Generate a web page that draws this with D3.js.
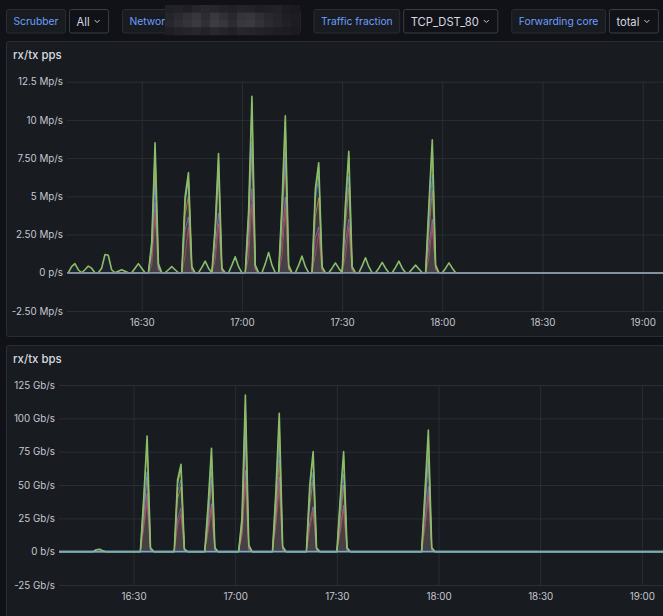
<!DOCTYPE html>
<html>
<head>
<meta charset="utf-8">
<script src="https://cdn.jsdelivr.net/npm/d3@7"></script>
<style>
	body { margin: 0; background: #111217; font-family: Inter, "Noto Sans", sans-serif; overflow: hidden; }
	svg { display: block; }
	.tick text { fill: #c7c7d1; font-size: 9.8px; font-family: Inter, sans-serif; }
</style>
</head>
<body>
<div id="chart"></div>
<script>
/*global d3*/

// dashboard variables
const chipLabels = ["Scrubber", "Network", "Traffic fraction", "Forwarding core"];
const chipValues = ["All", null, "TCP_DST_80", "total"];

// samples are one minute apart, starting at this time
const startTime = "16:08";
const endTime = "19:20";

// rx/tx pps, top series (Mp/s), one value per minute from 16:08
const ppsTotal = [
	0, 0.4, 0.6, 0.2, 0, 0.2, 0.44, 0.3, 0, 0,
	0.3, 1.2, 1.15, 0.2, 0, 0.1, 0.2, 0.1, 0, 0,
	0.3, 0.6, 0.3, 0, 0, 2.0, 8.5, 0.6, 0, 0,
	0.2, 0.4, 0.2, 0, 0, 5.0, 6.55, 0.4, 0, 0,
	0.35, 0.76, 0.3, 0, 3.0, 7.8, 0.3, 0, 0, 0.5,
	1.05, 0.4, 0, 0, 4.0, 11.55, 0.5, 0, 0, 0.6,
	1.33, 0.5, 0, 0, 4.5, 10.27, 0.5, 0, 0, 0.5,
	1.09, 0.4, 0, 0, 5.5, 7.2, 0.4, 0, 0, 0.3,
	0.65, 0.3, 0, 4.5, 7.94, 0.4, 0, 0, 0.45, 0.98,
	0.4, 0, 0, 0.3, 0.68, 0.3, 0, 0, 0.35, 0.76,
	0.3, 0, 0, 0.25, 0.5, 0.25, 0, 0, 4.5, 8.7,
	0.5, 0, 0, 0.3, 0.65, 0.3, 0
];

// burst minutes (offset from startTime), other series only move there
const ppsBursts = [26, 36, 45, 55, 65, 75, 84, 109];
// [minute before, burst minute, minute after]
const ppsYellow = [[1.9, 8.1, 0.5], [4.8, 6.3, 0.4], [2.9, 7.5, 0.3], [3.8, 11.1, 0.5], [4.3, 9.9, 0.5], [5.3, 6.9, 0.4], [4.3, 7.6, 0.4], [4.3, 8.3, 0.5]];
const ppsBlue = [[1.5, 6.0, 0.3], [4.6, 6.05, 0.3], [2.5, 6.6, 0.2], [3.1, 8.6, 0.4], [3.7, 7.9, 0.4], [4.8, 6.3, 0.3], [3.7, 6.3, 0.3], [3.3, 6.4, 0.4]];
const ppsOrange = [[1.6, 6.5, 0.4], [3.8, 5.0, 0.3], [2.4, 6.4, 0.2], [2.8, 8.2, 0.4], [3.3, 7.35, 0.3], [3.7, 4.9, 0.3], [3.2, 5.6, 0.3], [2.8, 5.4, 0.4]];
const ppsRed = [[0.5, 3.8, 0.2], [1.1, 3.0, 0.1], [0.8, 3.2, 0.1], [1.0, 4.5, 0.2], [1.1, 4.2, 0.2], [1.2, 2.6, 0.1], [1.1, 3.0, 0.1], [1.0, 3.0, 0.2]];
const ppsPurple = [[1.1, 4.6, 0.2], [2.8, 3.66, 0.2], [1.5, 3.9, 0.1], [1.9, 5.5, 0.2], [2.2, 4.96, 0.2], [2.3, 3.0, 0.2], [2.0, 3.5, 0.2], [1.8, 3.5, 0.2]];

// rx/tx bps (Gb/s)
const bpsBursts = [12, 26, 36, 45, 55, 65, 75, 84, 109];
const bpsGreen = [[1.4, 1.8, 0.6], [40, 86.8, 3], [54, 65.5, 2], [35, 77.5, 3], [25, 117.5, 5], [45, 103.8, 4], [50, 75, 3], [40, 75, 3], [45, 91.3, 3]];
const bpsYellow = [[1.3, 1.7, 0.5], [38, 82, 3], [51, 62, 2], [33, 73, 3], [24, 111, 5], [43, 98, 4], [47, 71, 3], [38, 71, 3], [43, 86, 3]];
const bpsBlue = [[0, 0, 0], [30, 60, 2], [45, 53.8, 2], [25, 60, 2], [20, 90, 4], [35, 80, 3], [40, 60, 2], [30, 58, 2], [35, 70, 2]];
const bpsOrange = [[0, 0, 0], [28, 56, 2], [40, 48.8, 2], [22, 53.8, 2], [18, 85, 4], [30, 68.8, 3], [35, 53.8, 2], [25, 50, 2], [33, 69, 2]];
const bpsRed = [[0, 0, 0], [18, 38, 1], [20, 28, 1], [15, 32, 1], [12, 52, 1], [20, 48, 1], [18, 30, 1], [15, 32, 1], [18, 42, 1]];
const bpsPurple = [[0, 0, 0], [20, 43.8, 1], [25, 32.5, 1], [18, 36, 1], [14, 61, 2], [25, 56, 2], [22, 33.8, 1], [18, 35, 1], [22, 48.8, 1]];

const ppsTicks = [-2.5, 0, 2.5, 5, 7.5, 10, 12.5];
const ppsTickLabels = ["-2.50 Mp/s", "0 p/s", "2.50 Mp/s", "5 Mp/s", "7.50 Mp/s", "10 Mp/s", "12.5 Mp/s"];
const bpsTicks = [-25, 0, 25, 50, 75, 100, 125];
const bpsTickLabels = ["-25 Gb/s", "0 b/s", "25 Gb/s", "50 Gb/s", "75 Gb/s", "100 Gb/s", "125 Gb/s"];
const timeTicks = ["16:30", "17:00", "17:30", "18:00", "18:30", "19:00"];

const COLORS = {
	green: "#8bbd6a", blue: "#5794f2", yellow: "#c9d35a",
	orange: "#e08a3a", red: "#c05a50", purple: "#9a72c4"
};

const W = 663, H = 616;

let parseTime = function (s) {
	let p = s.split(":");
	return new Date(2024, 0, 1, +p[0], +p[1], p[2] ? +p[2] : 0);
};
let t0 = parseTime(startTime);
let atMinute = function (m) { return d3.timeMinute.offset(t0, m); };

// full series from the per-minute array
let fromMinutes = function (values) {
	let pts = values.map(function (v, i) { return { t: atMinute(i), v: v }; });
	pts.push({ t: parseTime(endTime), v: 0 });
	return pts;
};

// full series from burst triplets, zero elsewhere
let fromBursts = function (minutes, triplets) {
	let pts = [{ t: t0, v: 0 }];
	minutes.forEach(function (m, k) {
		let tr = triplets[k];
		pts.push({ t: atMinute(m - 2), v: 0 });
		pts.push({ t: atMinute(m - 1), v: tr[0] });
		pts.push({ t: atMinute(m), v: tr[1] });
		pts.push({ t: atMinute(m + 1), v: tr[2] });
		pts.push({ t: atMinute(m + 2), v: 0 });
	});
	pts.push({ t: parseTime(endTime), v: 0 });
	return pts;
};

let svg = d3.select("#chart")
	.append("svg")
	.attr("width", W)
	.attr("height", H);

// ---- variable chips row ----
let chipRow = svg.append("g");
let cx = 6.5;
chipLabels.forEach(function (label, i) {
	let g = chipRow.append("g");
	let lt = g.append("text")
		.attr("x", cx + 7).attr("y", 25)
		.attr("fill", "#6e9fff")
		.style("font-size", "10.3px")
		.text(label);
	let lw = lt.node().getComputedTextLength() + 14;
	g.insert("rect", "text")
		.attr("x", cx).attr("y", 9.5)
		.attr("width", lw).attr("height", 23.5)
		.attr("rx", 2)
		.attr("fill", "#181b1f")
		.attr("stroke", "#2a2d33");
	cx += lw + 4;

	let value = chipValues[i];
	let vw;
	if (value === null) {
		vw = 300 - cx;
		g.append("rect")
			.attr("x", cx).attr("y", 9.5)
			.attr("width", vw).attr("height", 23.5)
			.attr("rx", 2)
			.attr("fill", "#111217")
			.attr("stroke", "#3b3e45");
	} else {
		let vg = g.append("g");
		let vt = vg.append("text")
			.attr("x", cx + 7).attr("y", 25.5)
			.attr("fill", "#d8d9e0")
			.style("font-size", "11.2px")
			.text(value);
		let tl = vt.node().getComputedTextLength();
		vw = tl + 7 + 5 + 6 + 8;
		vg.insert("rect", "text")
			.attr("x", cx).attr("y", 9.5)
			.attr("width", vw).attr("height", 23.5)
			.attr("rx", 2)
			.attr("fill", "#111217")
			.attr("stroke", "#3b3e45");
		let chx = cx + 7 + tl + 5;
		vg.append("path")
			.attr("d", "M" + chx + ",20 l2.5,2.5 l2.5,-2.5")
			.attr("fill", "none")
			.attr("stroke", "#c7c7d1")
			.attr("stroke-width", 1);
	}
	cx += vw + 14;
});

// pixelated (blurred) network value
const mosaic = [
	[0x20, 0x22, 0x1e, 0x24, 0x28, 0x26, 0x22, 0x20, 0x24, 0x22, 0x1e, 0x20, 0x22, 0x1c, 0x1a],
	[0x24, 0x2a, 0x30, 0x36, 0x2c, 0x38, 0x30, 0x28, 0x34, 0x36, 0x2e, 0x28, 0x24, 0x1e, 0x1c],
	[0x26, 0x2e, 0x34, 0x3a, 0x30, 0x3c, 0x36, 0x2c, 0x38, 0x3a, 0x32, 0x2a, 0x26, 0x20, 0x1c],
	[0x1e, 0x22, 0x24, 0x26, 0x22, 0x28, 0x24, 0x20, 0x26, 0x24, 0x22, 0x20, 0x1e, 0x1c, 0x1a]
];
let mg = chipRow.append("g");
mosaic.forEach(function (row, r) {
	row.forEach(function (c, k) {
		mg.append("rect")
			.attr("x", 165 + k * 9).attr("y", 5 + r * 7.5)
			.attr("width", 9.3).attr("height", 7.8)
			.attr("fill", d3.rgb(c, c, c + 6));
	});
});

// ---- panels ----
let drawPanel = function (cfg) {
	let p = svg.append("g");

	p.append("rect")
		.attr("x", 6.5).attr("y", cfg.top + 0.5)
		.attr("width", 720).attr("height", cfg.height)
		.attr("rx", 2)
		.attr("fill", "#181b1f")
		.attr("stroke", "#2a2d33");

	p.append("text")
		.attr("x", 13).attr("y", cfg.top + 18)
		.attr("fill", "#d8d9e0")
		.style("font-size", "11.4px")
		.style("font-weight", 500)
		.text(cfg.title);

	let x = d3.scaleTime()
		.domain([parseTime(cfg.domainStart), parseTime(endTime)])
		.range([cfg.left, cfg.right]);

	let y = d3.scaleLinear()
		.domain([cfg.ticks[0], cfg.ticks[cfg.ticks.length - 1]])
		.range([cfg.yBottom, cfg.yTop]);

	// horizontal grid + labels
	let yAxis = p.append("g")
		.attr("transform", "translate(" + cfg.left + ",0)")
		.call(d3.axisLeft(y)
			.tickValues(cfg.ticks)
			.tickSize(-(cfg.right - cfg.left))
			.tickPadding(cfg.labelPad)
			.tickFormat(function (d, i) { return cfg.tickLabels[i]; }));
	yAxis.select(".domain").remove();
	yAxis.selectAll("line").attr("stroke", "#2b2e34");

	// vertical grid + time labels
	let xAxis = p.append("g")
		.attr("transform", "translate(0," + cfg.yBottom + ")")
		.call(d3.axisBottom(x)
			.tickValues(timeTicks.map(parseTime))
			.tickSize(-(cfg.yBottom - cfg.yTop))
			.tickPadding(8)
			.tickFormat(d3.timeFormat("%H:%M")));
	xAxis.select(".domain").remove();
	xAxis.selectAll("line").attr("stroke", "#2b2e34");

	let plot = p.append("g");

	let area = d3.area()
		.x(function (d) { return x(d.t); })
		.y0(y(0))
		.y1(function (d) { return y(d.v); });

	let line = d3.line()
		.x(function (d) { return x(d.t); })
		.y(function (d) { return y(d.v); });

	cfg.series.forEach(function (s) {
		plot.append("path")
			.datum(s.data)
			.attr("d", area)
			.attr("fill", s.fill || s.color)
			.attr("fill-opacity", 0.07);
	});

	cfg.series.forEach(function (s) {
		plot.append("path")
			.datum(s.data)
			.attr("d", line)
			.attr("fill", "none")
			.attr("stroke", s.color)
			.attr("stroke-opacity", s.width ? 1 : 0.75)
			.attr("stroke-width", s.width || 1)
			.attr("stroke-linejoin", "round");
	});

	// tx side stays at zero over the whole range
	let zero = [{ t: parseTime(cfg.domainStart), v: 0 }, { t: parseTime(endTime), v: 0 }];
	plot.append("path")
		.datum(zero)
		.attr("d", line)
		.attr("fill", "none")
		.attr("stroke", cfg.zeroColor)
		.attr("stroke-width", 1.8);
};

drawPanel({
	title: "rx/tx pps",
	top: 41, height: 295,
	left: 67, right: 709.5,
	yTop: 81.7, yBottom: 311,
	labelPad: 4,
	domainStart: "16:07:38",
	ticks: ppsTicks, tickLabels: ppsTickLabels,
	zeroColor: "#8390a8",
	series: [
		{ color: COLORS.purple, data: fromBursts(ppsBursts, ppsPurple) },
		{ color: COLORS.red, data: fromBursts(ppsBursts, ppsRed) },
		{ color: COLORS.orange, data: fromBursts(ppsBursts, ppsOrange) },
		{ color: COLORS.blue, data: fromBursts(ppsBursts, ppsBlue) },
		{ color: COLORS.yellow, data: fromBursts(ppsBursts, ppsYellow) },
		{ color: COLORS.green, fill: "#5b7fc0", data: fromMinutes(ppsTotal), width: 1.6 }
	]
});

drawPanel({
	title: "rx/tx bps",
	top: 345, height: 300,
	left: 59, right: 709.6,
	yTop: 385, yBottom: 585,
	labelPad: 4,
	domainStart: "16:08",
	ticks: bpsTicks, tickLabels: bpsTickLabels,
	zeroColor: "#79aac6",
	series: [
		{ color: COLORS.purple, data: fromBursts(bpsBursts, bpsPurple) },
		{ color: COLORS.red, data: fromBursts(bpsBursts, bpsRed) },
		{ color: COLORS.orange, data: fromBursts(bpsBursts, bpsOrange) },
		{ color: COLORS.blue, data: fromBursts(bpsBursts, bpsBlue) },
		{ color: COLORS.yellow, data: fromBursts(bpsBursts, bpsYellow) },
		{ color: COLORS.green, fill: "#5b7fc0", data: fromBursts(bpsBursts, bpsGreen), width: 1.6 }
	]
});
</script>
</body>
</html>
